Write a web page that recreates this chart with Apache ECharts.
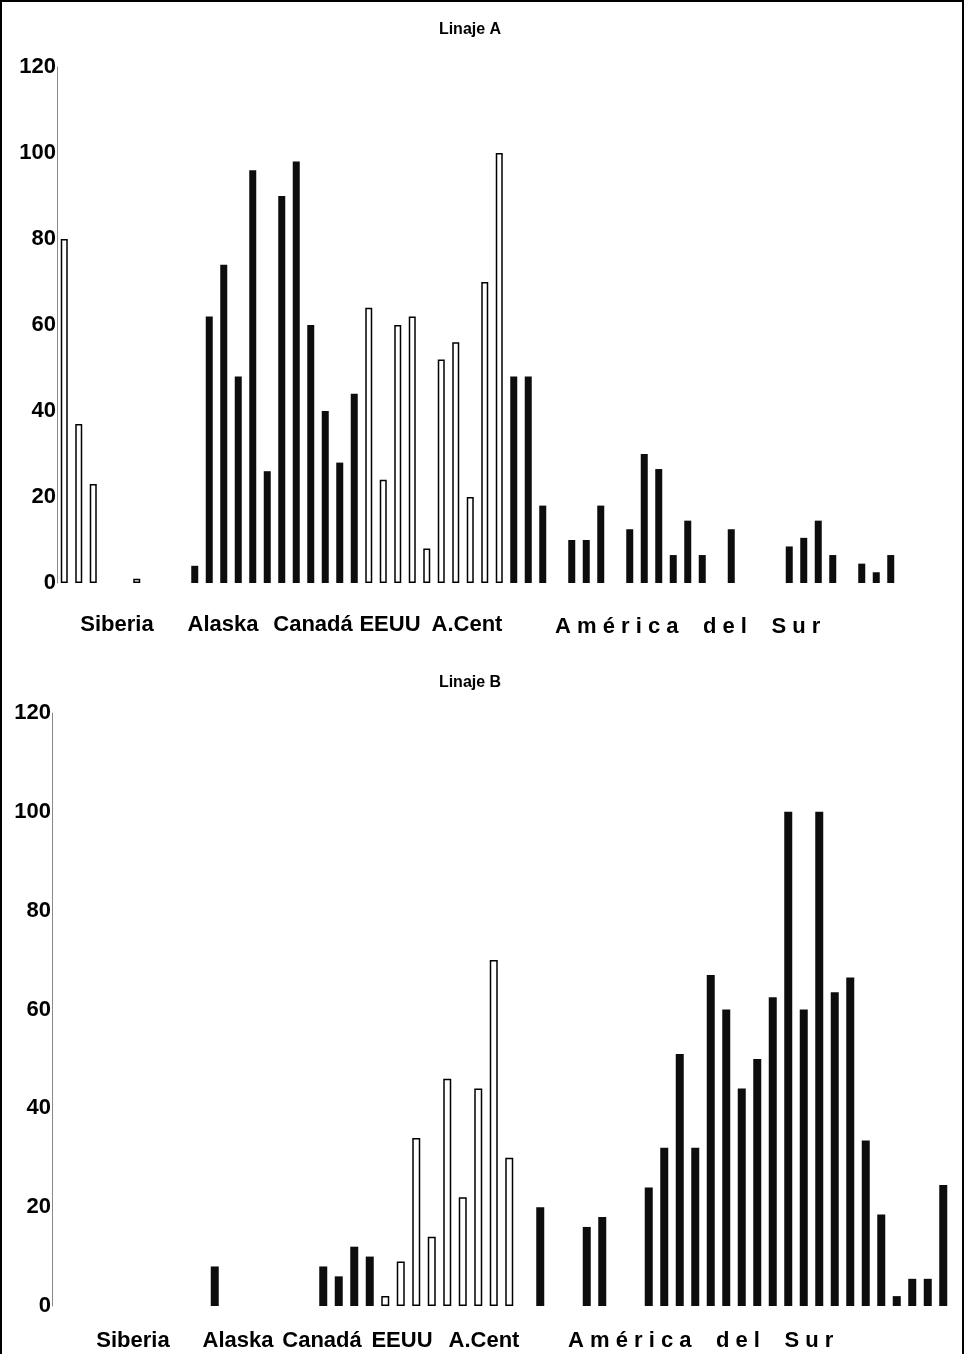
<!DOCTYPE html>
<html>
<head>
<meta charset="utf-8">
<title>Linaje A / Linaje B</title>
<script src="https://cdn.jsdelivr.net/npm/echarts@6/dist/echarts.min.js"></script>
<style>
  html, body { margin: 0; padding: 0; background: #fff; }
  #chart { width: 965px; height: 1354px; }
</style>
</head>
<body>
<div id="chart"></div>
<script>
// region names written under both panels
var regions = ['Siberia', 'Alaska', 'Canadá', 'EEUU', 'A.Cent', 'A m é r i c a    d e l    S u r'];
var yTicks = [0, 20, 40, 60, 80, 100, 120];

// Linaje A : one value per population slot (null = empty slot)
var valuesA = [
  80, 37, 23, null, null, 1, null, null, null, 4,
  62, 74, 48, 96, 26, 90, 98, 60, 40, 28,
  44, 64, 24, 60, 62, 8, 52, 56, 20, 70,
  100, 48, 48, 18, null, 10, 10, 18, null, 12.5,
  30, 26.5, 6.5, 14.5, 6.5, null, 12.5, null, null, null,
  8.5, 10.5, 14.5, 6.5, null, 4.5, 2.5, 6.5, null, null,
  null, null
];
// W = open bar, B = filled bar
var fillA = 'WWWWWWWWWBBBBBBBBBBBBWWWWWWWWWWBBBBBBBBBBBBBBBBBBBBBBBBBBBBBBB';

// Linaje B
var valuesB = [
  null, null, null, null, null, null, null, null, null, null,
  8, null, null, null, null, null, null, 8, 6, 12,
  10, 2, 9, 34, 14, 46, 22, 44, 70, 30,
  null, 20, null, null, 16, 18, null, null, 24, 32,
  51, 32, 67, 60, 44, 50, 62.5, 100, 60, 100,
  63.5, 66.5, 33.5, 18.5, 2, 5.5, 5.5, 24.5
];
var fillB = 'BBBBBBBBBBBBBBBBBBBBBWWWWWWWWWBBBBBBBBBBBBBBBBBBBBBBBBBBBB';

var font = '"Liberation Sans", Arial, sans-serif';

function toItems(values, fills) {
  return values.map(function (v, i) {
    var open = fills.charAt(i) === 'W';
    return {
      value: v,
      itemStyle: open
        ? { color: '#ffffff', borderColor: '#000000', borderWidth: 1.5 }
        : { color: '#0d0d0d', borderWidth: 0 }
    };
  });
}

function slots(values) {
  return values.map(function (v, i) { return String(i + 1); });
}

function yAxis(gridIndex) {
  return {
    type: 'value',
    gridIndex: gridIndex,
    min: yTicks[0],
    max: yTicks[yTicks.length - 1],
    interval: 20,
    axisLine: { show: true, lineStyle: { color: '#8a8a8a', width: 1 } },
    axisTick: { show: false },
    splitLine: { show: false },
    axisLabel: {
      margin: 1,
      color: '#000',
      fontFamily: font,
      fontWeight: 'bold',
      fontSize: 22
    }
  };
}

function xAxis(gridIndex, values) {
  return {
    type: 'category',
    gridIndex: gridIndex,
    data: slots(values),
    axisLine: { show: false },
    axisTick: { show: false },
    axisLabel: { show: false }
  };
}

function label(text, x, y, size, align) {
  return {
    type: 'text',
    x: x,
    y: y,
    style: {
      text: text,
      fill: '#000',
      font: 'bold ' + size + 'px ' + font,
      textAlign: align || 'center',
      textVerticalAlign: 'middle'
    }
  };
}

var chart = echarts.init(document.getElementById('chart'));

chart.setOption({
  animation: false,
  backgroundColor: '#fff',
  grid: [
    { left: 57, top: 67, width: 899, height: 516 },
    { left: 52, top: 713, width: 899, height: 593 }
  ],
  xAxis: [xAxis(0, valuesA), xAxis(1, valuesB)],
  yAxis: [yAxis(0), yAxis(1)],
  series: [
    {
      name: 'Linaje A',
      type: 'bar',
      xAxisIndex: 0,
      yAxisIndex: 0,
      barWidth: 7,
      data: toItems(valuesA, fillA)
    },
    {
      name: 'Linaje B',
      type: 'bar',
      xAxisIndex: 1,
      yAxisIndex: 1,
      barWidth: 8,
      data: toItems(valuesB, fillB)
    }
  ],
  graphic: [
    {
      type: 'rect',
      shape: { x: 1, y: 1, width: 962, height: 1370 },
      style: { fill: 'none', stroke: '#000', lineWidth: 2 }
    },
    label('Linaje A', 470, 30, 16),
    label('Linaje B', 470, 683, 16),
    // panel A region names
    label(regions[0], 117, 625, 22),
    label(regions[1], 223, 625, 22),
    label(regions[2], 313, 625, 22),
    label(regions[3], 390, 625, 22),
    label(regions[4], 467, 625, 22),
    label(regions[5], 555, 627, 22, 'left'),
    // panel B region names
    label(regions[0], 133, 1341, 22),
    label(regions[1], 238, 1341, 22),
    label(regions[2], 322, 1341, 22),
    label(regions[3], 402, 1341, 22),
    label(regions[4], 484, 1341, 22),
    label(regions[5], 568, 1341, 22, 'left')
  ]
});
</script>
</body>
</html>
